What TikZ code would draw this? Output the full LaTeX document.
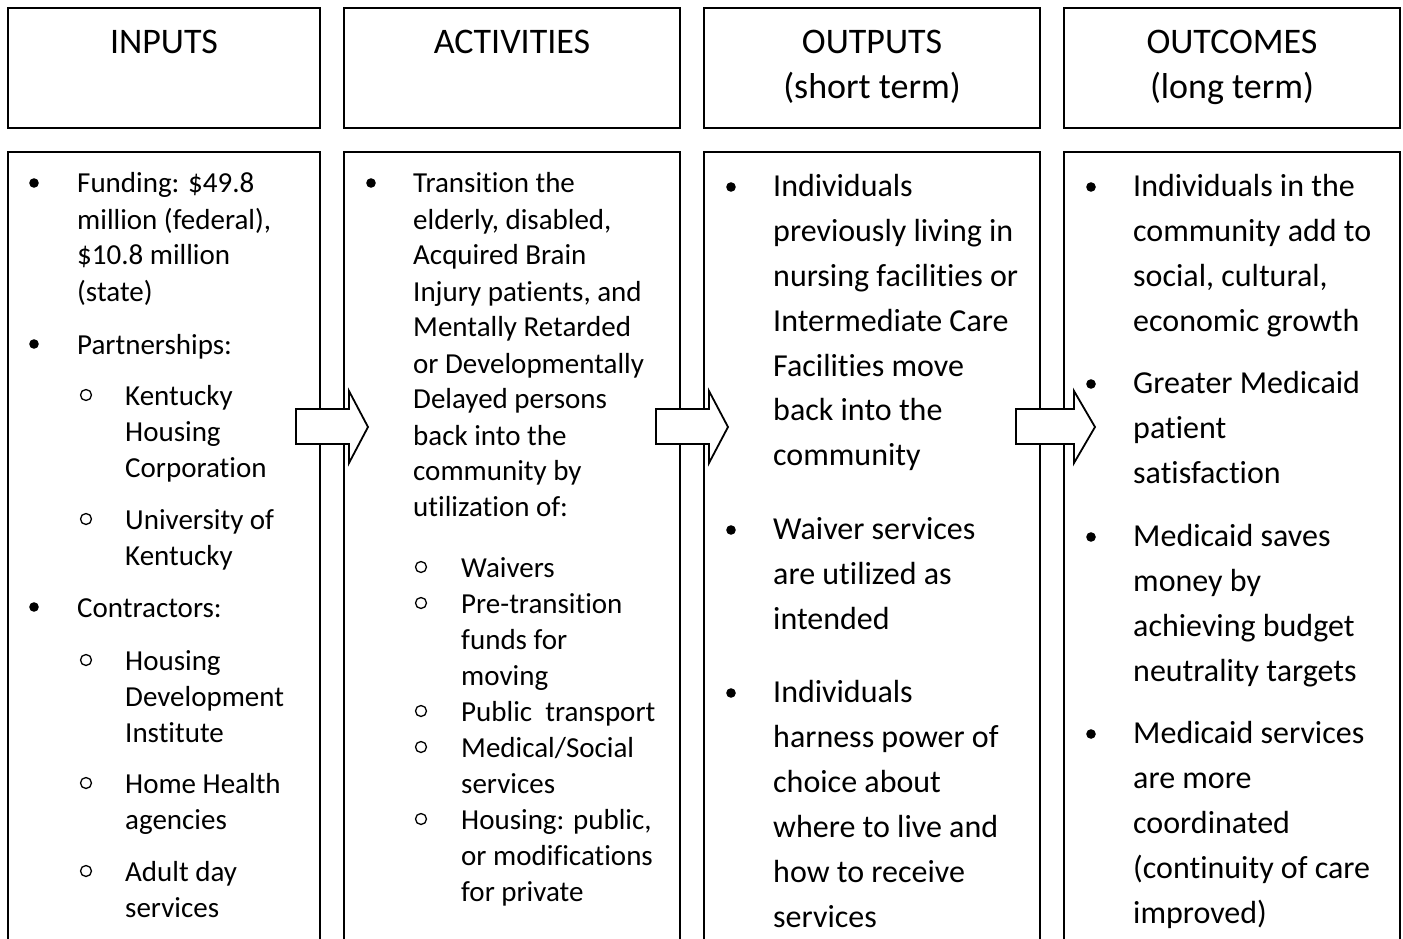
\documentclass[tikz,border=0pt]{standalone}
\usepackage{fontspec}
\setmainfont[Ligatures=NoCommon]{Carlito}

% lines of a node, hung from the baseline of the first one
\newcommand{\lns}[1]{\begin{tabular}[t]{@{}l@{}}#1\end{tabular}}
\newcommand{\clns}[1]{\begin{tabular}[t]{@{}c@{}}#1\end{tabular}}

\tikzset{
  box/.style={draw, line width=2pt},
  blk/.style={draw, line width=1.8pt, fill=white, line join=miter},
  hd/.style={font=\fontsize{36}{45}\selectfont, anchor=base, inner sep=0pt},
  sm/.style={font=\fontsize{29}{36}\selectfont, anchor=base west, inner sep=0pt},
  lg/.style={font=\fontsize{32}{45}\selectfont, anchor=base west, inner sep=0pt},
  ob/.style={draw, line width=1.3pt},
}

\begin{document}
\begin{tikzpicture}[x=1pt,y=-1pt]
  \useasboundingbox (0,0) rectangle (1403,939);

  % header row
  \draw[box] (8,8) rectangle (320,128);
  \draw[box] (344,8) rectangle (680,128);
  \draw[box] (704,8) rectangle (1040,128);
  \draw[box] (1064,8) rectangle (1400,128);
  \node[hd] (h1) at (164,54) {INPUTS};
  \node[hd] (h2) at (512,54) {ACTIVITIES};
  \node[hd] (h3) at (872,54) {\clns{OUTPUTS\\(short term)}};
  \node[hd] (h4) at (1232,54) {\clns{OUTCOMES\\(long term)}};

  % columns, open at the bottom
  \draw[box] (8,945) -- (8,152) -- (320,152) -- (320,945);
  \draw[box] (344,945) -- (344,152) -- (680,152) -- (680,945);
  \draw[box] (704,945) -- (704,152) -- (1040,152) -- (1040,945);
  \draw[box] (1064,945) -- (1064,152) -- (1400,152) -- (1400,945);

  % block arrows
  \foreach \a/\b/\c in {296/349/368, 656/709/728, 1016/1074/1095}
    \draw[blk] (\a,409) -- (\b,409) -- (\b,391) -- (\c,427) -- (\b,463)
      -- (\b,444) -- (\a,444) -- cycle;

  % inputs
  \fill (34,183) circle (4.8);
  \node[sm] (in1) at (77,193) {\lns{Funding: \$49.8\\million (federal),\\\$10.8 million\\(state)}};
  \fill (34,344) circle (4.8);
  \node[sm] (in2) at (77,354) {Partnerships:};
  \draw[ob] (86,395) circle (5.5);
  \node[sm] (in3) at (125,405) {\lns{Kentucky\\Housing\\Corporation}};
  \draw[ob] (86,519) circle (5.5);
  \node[sm] (in4) at (125,529) {\lns{University of\\Kentucky}};
  \fill (34,607) circle (4.8);
  \node[sm] (in5) at (77,617) {Contractors:};
  \draw[ob] (86,660) circle (5.5);
  \node[sm] (in6) at (125,670) {\lns{Housing\\Development\\Institute}};
  \draw[ob] (86,783) circle (5.5);
  \node[sm] (in7) at (125,793) {\lns{Home Health\\agencies}};
  \draw[ob] (86,871) circle (5.5);
  \node[sm] (in8) at (125,881) {\lns{Adult day\\services}};

  % activities
  \fill (371,183) circle (4.8);
  \node[sm] (act1) at (413,193) {\lns{Transition the\\elderly, disabled,\\Acquired Brain\\Injury patients, and\\Mentally Retarded\\or Developmentally\\Delayed persons\\back into the\\community by\\utilization of:}};
  \draw[ob] (421,567) circle (5.5);
  \node[sm] (act2) at (461,577) {Waivers};
  \draw[ob] (421,603) circle (5.5);
  \node[sm] (act3) at (461,613) {\lns{Pre-transition\\funds for\\moving}};
  \draw[ob] (421,711) circle (5.5);
  \node[sm] (act4) at (461,721) {Public\ \ transport};
  \draw[ob] (421,747) circle (5.5);
  \node[sm] (act5) at (461,757) {\lns{Medical/Social\\services}};
  \draw[ob] (421,819) circle (5.5);
  \node[sm] (act6) at (461,829) {\lns{Housing: public,\\or modifications\\for private}};

  % outputs
  \fill (731,187) circle (4.8);
  \node[lg] (out1) at (773,196) {\lns{Individuals\\previously living in\\nursing facilities or\\Intermediate Care\\Facilities move\\back into the\\community}};
  \fill (731,530) circle (4.8);
  \node[lg] (out2) at (773,539) {\lns{Waiver services\\are utilized as\\intended}};
  \fill (731,693) circle (4.8);
  \node[lg] (out3) at (773,702) {\lns{Individuals\\harness power of\\choice about\\where to live and\\how to receive\\services}};

  % outcomes
  \fill (1091,187) circle (4.8);
  \node[lg] (oc1) at (1133,196) {\lns{Individuals in the\\community add to\\social, cultural,\\economic growth}};
  \fill (1091,384) circle (4.8);
  \node[lg] (oc2) at (1133,393) {\lns{Greater Medicaid\\patient\\satisfaction}};
  \fill (1091,537) circle (4.8);
  \node[lg] (oc3) at (1133,546) {\lns{Medicaid saves\\money by\\achieving budget\\neutrality targets}};
  \fill (1091,734) circle (4.8);
  \node[lg] (oc4) at (1133,743) {\lns{Medicaid services\\are more\\coordinated\\(continuity of care\\improved)}};
\end{tikzpicture}
\end{document}
